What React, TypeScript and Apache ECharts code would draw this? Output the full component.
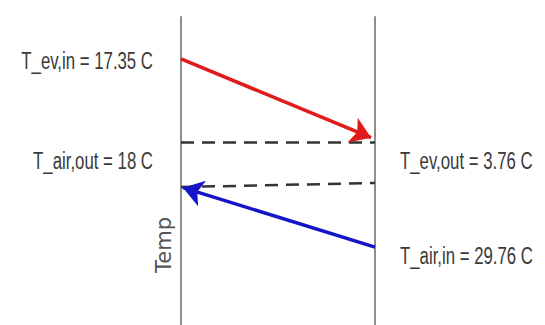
import React, { useEffect, useRef } from "react";
import * as echarts from "echarts";

// Positions along the heat-exchanger (0 = left side, 1 = right side)
// and temperature levels on an abstract 0–100 "Temp" scale.
const leftLabels = ["T_ev,in = 17.35 C", "T_air,out = 18 C"];
const leftLevels = [85.7, 53.2];
const rightLabels = ["T_ev,out = 3.76 C", "T_air,in = 29.76 C"];
const rightLevels = [53.2, 22.4];

const evaporatorArrow: [number, number][] = [
  [0, 86.4],
  [0.98, 60.8],
];
const airArrow: [number, number][] = [
  [1, 25.3],
  [0.01, 44.6],
];
const dashedUpper: [number, number][] = [
  [0, 59.4],
  [1, 59.4],
];
const dashedLower: [number, number][] = [
  [0, 44.8],
  [1, 46.1],
];

const axisName = "Temp";
const axisNameLevel = 26;

export default function App() {
  const ref = useRef<HTMLDivElement>(null);

  useEffect(() => {
    if (!ref.current) return;
    const chart = echarts.init(ref.current, undefined, { renderer: "svg" });
    const yBase = {
      type: "value" as const,
      min: 0,
      max: 100,
      axisLabel: { show: false },
      axisTick: { show: false },
      splitLine: { show: false },
      axisLine: { show: true, lineStyle: { color: "#8e8e8e", width: 2 } },
    };
    chart.setOption({
      animation: false,
      backgroundColor: "#ffffff",
      grid: { left: 181, right: 170, top: 17, bottom: 0 },
      xAxis: { type: "value", min: 0, max: 1, show: false },
      yAxis: [
        { ...yBase, position: "left" },
        { ...yBase, position: "right" },
      ],
      series: [
        {
          type: "lines",
          coordinateSystem: "cartesian2d",
          symbol: ["none", "none"],
          lineStyle: { color: "#333333", width: 2.5, type: [13, 8], opacity: 1 },
          data: [{ coords: dashedUpper }, { coords: dashedLower }],
          z: 2,
        },
        {
          type: "lines",
          coordinateSystem: "cartesian2d",
          symbol: ["none", "arrow"],
          symbolSize: 20,
          lineStyle: { color: "#e01b1b", width: 3.5, opacity: 1 },
          data: [{ coords: evaporatorArrow }],
          z: 3,
        },
        {
          type: "lines",
          coordinateSystem: "cartesian2d",
          symbol: ["none", "arrow"],
          symbolSize: 20,
          lineStyle: { color: "#1414c8", width: 3.5, opacity: 1 },
          data: [{ coords: airArrow }],
          z: 3,
        },
      ],
    });

    const toPx = (x: number, y: number) =>
      chart.convertToPixel({ gridIndex: 0 }, [x, y]) as number[];

    const labelStyle = {
      fontFamily: "'Liberation Sans', Arial, sans-serif",
      fontSize: 23,
      fill: "#3a3a3a",
      textVerticalAlign: "middle" as const,
    };
    const texts: any[] = [];
    leftLabels.forEach((t, i) => {
      const [px, py] = toPx(0, leftLevels[i]);
      texts.push({
        type: "text",
        x: px - 28,
        y: py,
        scaleX: 0.73,
        style: { ...labelStyle, text: t, textAlign: "right" },
      });
    });
    rightLabels.forEach((t, i) => {
      const [px, py] = toPx(1, rightLevels[i]);
      texts.push({
        type: "text",
        x: px + 25,
        y: py,
        scaleX: 0.73,
        style: { ...labelStyle, text: t, textAlign: "left" },
      });
    });
    const [ax, ay] = toPx(0, axisNameLevel);
    texts.push({
      type: "text",
      x: ax - 17,
      y: ay,
      rotation: Math.PI / 2,
      style: {
        text: axisName,
        fontFamily: "'DejaVu Sans', sans-serif",
        fontSize: 21,
        fill: "#555555",
        textAlign: "center",
        textVerticalAlign: "middle",
      },
    });
    chart.setOption({ graphic: texts });

    return () => chart.dispose();
  }, []);

  return (
    <div
      ref={ref}
      style={{ position: "fixed", left: 0, top: 0, width: 545, height: 325 }}
    />
  );
}
